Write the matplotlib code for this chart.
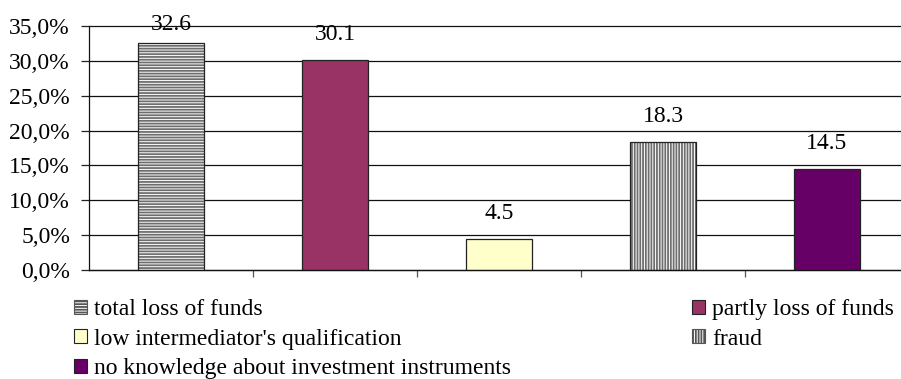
import matplotlib
matplotlib.use("Agg")
import matplotlib.pyplot as plt
from matplotlib.patches import Patch
from matplotlib.ticker import FuncFormatter, FixedLocator

categories = ["total loss of funds", "partly loss of funds",
              "low intermediator's qualification", "fraud",
              "no knowledge about investment instruments"]
values = [32.6, 30.1, 4.5, 18.3, 14.5]
face_colors = ["white", "#993366", "#FFFFCC", "white", "#660066"]
hatches = ["------", None, None, "||||||", None]
y_ticks = [0, 5, 10, 15, 20, 25, 30, 35]

plt.rcParams['font.family'] = ['Liberation Serif', 'DejaVu Serif']
plt.rcParams['hatch.linewidth'] = 1.3
FS = 17

fig = plt.figure(figsize=(9.01, 3.79), dpi=100)
W, H = 901, 379
left, right, top, bottom = 89, 909, 26, 270
ax = fig.add_axes([left / W, 1 - bottom / H, (right - left) / W, (bottom - top) / H])
YMAX = 35
px_per_unit = (bottom - top) / YMAX

x = list(range(len(categories)))
bw = 0.40
for xi, v, fc, h in zip(x, values, face_colors, hatches):
    if h:
        ax.bar(xi, v, width=bw, color=fc, edgecolor="#6e6e6e", hatch=h, linewidth=0, zorder=3)
        ax.bar(xi, v, width=bw, fill=False, edgecolor="#222222", linewidth=0.9, zorder=4)
    else:
        ax.bar(xi, v, width=bw, color=fc, edgecolor="#222222", linewidth=0.9, zorder=3)
    # label baseline 20px above bar, but kept at least 4px below the plot top
    off_px = min(20, (YMAX - v) * px_per_unit - 4)
    ax.annotate(f"{v:.1f}", (xi, v), xytext=(0, off_px * 0.72), textcoords="offset points",
                ha="center", va="baseline", fontsize=FS, zorder=5, annotation_clip=False)

ax.set_xlim(-0.5, len(categories) - 0.5)
ax.set_ylim(0, YMAX)
ax.yaxis.set_major_locator(FixedLocator(y_ticks))
ax.yaxis.set_major_formatter(FuncFormatter(lambda v, p: f"{v:.1f}%".replace(".", ",")))
ax.xaxis.set_major_locator(FixedLocator([i + 0.5 for i in range(len(categories) - 1)]))
ax.set_xticklabels([])
ax.tick_params(axis="y", direction="out", length=5.8, width=0.9, color="#222222",
               labelsize=FS, pad=7.9)
ax.tick_params(axis="x", direction="out", length=5, width=0.9, color="#555555")
ax.grid(axis="y", color="#111111", linewidth=0.9, zorder=0)
for gl in ax.get_ygridlines():
    gl.set_clip_on(False)
for s in ["top", "right"]:
    ax.spines[s].set_visible(False)
for s in ["left", "bottom"]:
    ax.spines[s].set_color("#111111")
    ax.spines[s].set_linewidth(0.9)
ax.spines["left"].set_zorder(5)
ax.spines["bottom"].set_zorder(5)

def proxy(i):
    if hatches[i]:
        return Patch(facecolor=face_colors[i], edgecolor="#555555", hatch=hatches[i], linewidth=0.8)
    return Patch(facecolor=face_colors[i], edgecolor="#222222", linewidth=0.8)

leg_kw = dict(frameon=False, fontsize=FS, handlelength=0.55, handleheight=0.55,
              handletextpad=0.3, labelspacing=0.37, borderpad=0, borderaxespad=0)
left_idx = [0, 2, 4]
right_idx = [1, 3]
leg1 = fig.legend([proxy(i) for i in left_idx], [categories[i] for i in left_idx],
                  loc="upper left", bbox_to_anchor=(74 / W, 1 - 299 / H), **leg_kw)
leg2 = fig.legend([proxy(i) for i in right_idx], [categories[i] for i in right_idx],
                  loc="upper left", bbox_to_anchor=(692 / W, 1 - 299 / H), **leg_kw)

fig.savefig("out.png", dpi=100)
